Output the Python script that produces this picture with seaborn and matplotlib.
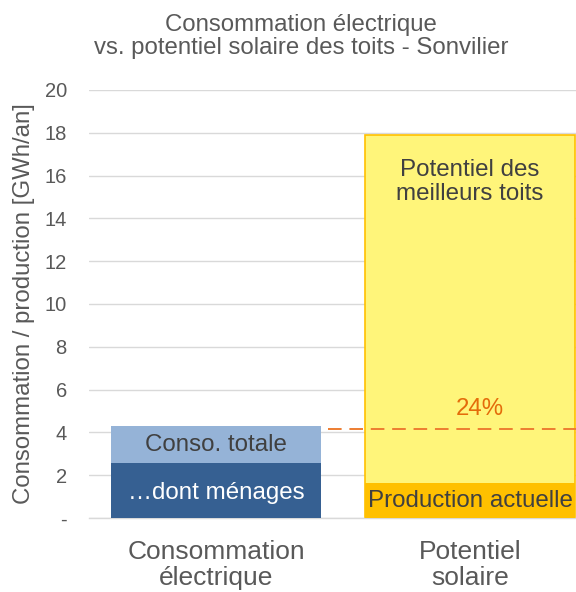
import matplotlib
matplotlib.use("Agg")
import matplotlib.pyplot as plt
import seaborn as sns
import pandas as pd

categories = ["Consommation\nélectrique", "Potentiel\nsolaire"]
upper_values = [4.3, 17.9]      # conso totale, potentiel meilleurs toits
lower_values = [2.57, 1.65]     # dont ménages, production actuelle
current_share_line = 4.17
share_label = "24%"
yticks = [0, 2, 4, 6, 8, 10, 12, 14, 16, 18, 20]
ytick_labels = ["-", "2", "4", "6", "8", "10", "12", "14", "16", "18", "20"]

sns.set_theme(style="white")
plt.rcParams["font.family"] = ["Liberation Sans", "DejaVu Sans"]

fig = plt.figure(figsize=(5.76, 5.92), dpi=100)
ax = fig.add_axes([89/576, 74/592, 508/576, 428/592])

df_up = pd.DataFrame({"cat": categories, "val": upper_values})
df_lo = pd.DataFrame({"cat": categories, "val": lower_values})

sns.barplot(data=df_up, x="cat", y="val", hue="cat", order=categories,
            palette=["#95B3D7", "#FFF57A"], width=0.83, ax=ax, legend=False,
            saturation=1, zorder=2)
sns.barplot(data=df_lo, x="cat", y="val", hue="cat", order=categories,
            palette=["#366092", "#FFC000"], width=0.83, ax=ax, legend=False,
            saturation=1, zorder=3)

patches = ax.patches
for p in patches:
    p.set_linewidth(0)
for p in patches:
    fc = p.get_facecolor()
    if abs(fc[0]-1.0) < 0.01 and abs(fc[1]-0.96) < 0.02:
        p.set_edgecolor("#FFC000")
        p.set_linewidth(1.2)

ax.set_xlim(-0.5, 1.5)
ax.set_ylim(0, 20)
ax.set_yticks(yticks)
ax.set_yticklabels(ytick_labels, fontsize=14.5, color="#595959")
ax.yaxis.grid(True, color="#D9D9D9", linewidth=1, zorder=0)
ax.set_axisbelow(True)
for s in ["left", "top", "right"]:
    ax.spines[s].set_visible(False)
ax.spines["bottom"].set_color("#D9D9D9")
ax.spines["bottom"].set_linewidth(1)
ax.tick_params(axis="y", length=0, pad=16)
ax.tick_params(axis="x", length=0, pad=16)
ax.set_xticks([0, 1])
ax.set_xticklabels(categories, fontsize=19, color="#595959", linespacing=1.1)
ax.set_xticks([0.5], minor=True)
ax.tick_params(axis="x", which="minor", length=6, color="#BFBFBF", width=1)
ax.set_xlabel("")
ax.set_ylabel("Consommation / production [GWh/an]", fontsize=17.3, color="#595959")
ax.yaxis.set_label_coords(-0.106, 0.502)

ax.plot([0.44, 1.5], [current_share_line, current_share_line], ls=(0, (7, 4)),
        color="#ED7D31", lw=1.4, zorder=4)
ax.text(1.04, 5.1, share_label, fontsize=17.3, color="#E46C0A", ha="center", va="center", zorder=5)

ax.text(0, 3.39, "Conso. totale", fontsize=17.4, color="#404040", ha="center", va="center", zorder=5)
ax.text(0, 1.19, "…dont ménages", fontsize=17.4, color="white", ha="center", va="center", zorder=5)
ax.text(1, 15.7, "Potentiel des\nmeilleurs toits", fontsize=17.4, color="#404040", ha="center",
        va="center", linespacing=1.14, zorder=5)
ax.text(1, 0.8, "Production actuelle", fontsize=17.4, color="#404040", ha="center", va="center", zorder=5)

fig.text(0.523, 0.977, "Consommation électrique\nvs. potentiel solaire des toits - Sonvilier",
         ha="center", va="top", fontsize=17.3, color="#595959", linespacing=1.1)

fig.savefig("out.png", dpi=100)
